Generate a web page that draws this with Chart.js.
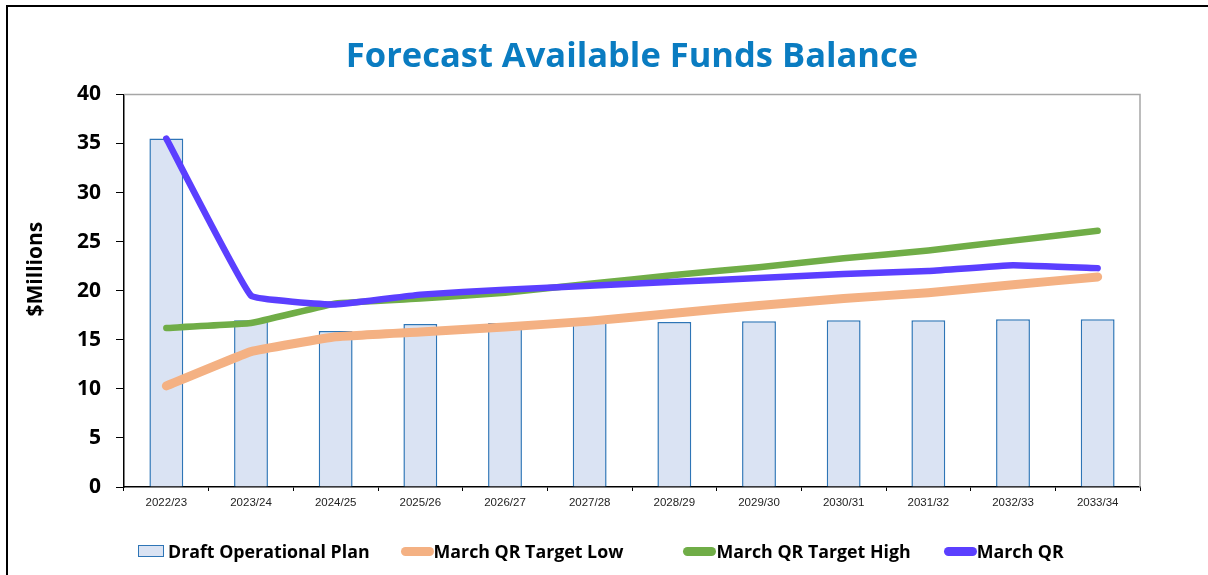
<!DOCTYPE html>
<html>
<head>
<meta charset="utf-8">
<title>Forecast Available Funds Balance</title>
<script src="https://cdn.jsdelivr.net/npm/chart.js@4"></script>
<style>
    body { margin: 0; background: #fff; }
    #wrap { position: relative; width: 1208px; height: 575px; overflow: hidden; }
    #frame { position: absolute; left: 6px; top: 5px; right: -10px; bottom: -10px;
             border-left: 2.5px solid #000; border-top: 2.5px solid #000; }
    canvas { position: absolute; left: 0; top: 0; }
    #legend { position: absolute; left: 138px; top: 541px; display: flex; align-items: center;
              font: bold 17.8px "Open Sans", sans-serif; color: #000; line-height: 20px; }
    .item { display: flex; align-items: center; }
    .swatch { display: inline-block; box-sizing: border-box; }
</style>
</head>
<body>
<div id="wrap">
    <div id="frame"></div>
    <canvas id="fundsChart" width="1208" height="575"></canvas>
    <div id="legend"></div>
</div>
<script>
const years = ['2022/23', '2023/24', '2024/25', '2025/26', '2026/27', '2027/28',
               '2028/29', '2029/30', '2030/31', '2031/32', '2032/33', '2033/34']

const draftPlan  = [35.5, 17.0, 15.9, 16.6, 16.7, 16.8, 16.8, 16.9, 17.0, 17.0, 17.1, 17.1]
const targetLow  = [10.3, 13.8, 15.3, 15.8, 16.3, 16.9, 17.7, 18.5, 19.2, 19.8, 20.6, 21.4]
const targetHigh = [16.2, 16.7, 18.7, 19.2, 19.8, 20.7, 21.6, 22.4, 23.3, 24.1, 25.1, 26.1]
const marchQR    = [35.5, 19.5, 18.6, 19.6, 20.1, 20.5, 20.9, 21.3, 21.7, 22.0, 22.6, 22.3]

const yTicks = [0, 5, 10, 15, 20, 25, 30, 35, 40]

// space after each legend entry
const legendGaps = [31, 60, 33, 0]

// gray frame on top/right of the plot and the rotated y title
const plotExtras = {
    id: 'plotExtras',
    beforeDatasetsDraw(chart) {
        const { ctx, chartArea: a } = chart
        ctx.save()
        ctx.strokeStyle = '#a6a6a6'
        ctx.lineWidth = 1.5
        ctx.beginPath()
        ctx.moveTo(a.left, a.top)
        ctx.lineTo(a.right, a.top)
        ctx.lineTo(a.right, a.bottom)
        ctx.stroke()

        ctx.translate(36, a.top + (a.bottom - a.top) * 0.445)
        ctx.rotate(-Math.PI / 2)
        ctx.font = 'bold 21px "Open Sans", sans-serif'
        ctx.fillStyle = '#000'
        ctx.textAlign = 'center'
        ctx.textBaseline = 'middle'
        ctx.fillText('$Millions', 0, 0)
        ctx.restore()
    }
}

function lineSet(label, data, color, width, order) {
    return {
        type: 'line',
        label: label,
        data: data,
        borderColor: color,
        backgroundColor: color,
        borderWidth: width,
        borderCapStyle: 'round',
        borderJoinStyle: 'round',
        tension: 0.08,
        pointRadius: 0,
        fill: false,
        order: order
    }
}

const chart = new Chart(document.getElementById('fundsChart'), {
    type: 'bar',
    data: {
        labels: years,
        datasets: [
            {
                label: 'Draft Operational Plan',
                data: draftPlan,
                backgroundColor: '#dae3f3',
                borderColor: '#2e75b6',
                borderWidth: 1.5,
                barPercentage: 0.4,
                categoryPercentage: 1,
                order: 4
            },
            lineSet('March QR Target Low', targetLow, '#f4b183', 9, 3),
            lineSet('March QR Target High', targetHigh, '#70ad47', 6.5, 2),
            lineSet('March QR', marchQR, '#5b3fff', 6.5, 1)
        ]
    },
    options: {
        responsive: false,
        animation: false,
        layout: { padding: { left: 20, right: 68, top: 0, bottom: 58 } },
        plugins: {
            legend: { display: false },
            tooltip: { enabled: false },
            title: {
                display: true,
                fullSize: false,
                text: 'Forecast Available Funds Balance',
                color: '#0a7cc1',
                font: { family: 'Open Sans', weight: 'bold', size: 34.5 },
                padding: { top: 36, bottom: 17 }
            }
        },
        scales: {
            x: {
                afterFit: axis => { axis.height = 30 },
                border: { color: '#000', width: 1.5 },
                grid: { drawOnChartArea: false, tickLength: 4, color: '#000', lineWidth: 1 },
                ticks: {
                    color: '#222',
                    font: { family: 'Liberation Sans', size: 11.5 },
                    padding: 5,
                    maxRotation: 0,
                    autoSkip: false
                }
            },
            y: {
                min: 0,
                max: 40,
                afterFit: axis => { axis.width = 104 },
                afterBuildTicks: axis => { axis.ticks = yTicks.map(v => ({ value: v })) },
                border: { color: '#000', width: 1.5 },
                grid: { drawOnChartArea: false, tickLength: 8, color: '#000', lineWidth: 1 },
                ticks: {
                    color: '#000',
                    font: { family: 'Open Sans', weight: 'bold', size: 21 },
                    padding: 15
                }
            }
        }
    },
    plugins: [plotExtras]
})

// legend row built from the chart's datasets
const legend = document.getElementById('legend')
chart.data.datasets.forEach((ds, i) => {
    const item = document.createElement('span')
    item.className = 'item'
    item.style.marginRight = legendGaps[i] + 'px'
    const sw = document.createElement('span')
    sw.className = 'swatch'
    if (ds.type === 'line') {
        sw.style.width = '33px'
        sw.style.height = '9px'
        sw.style.borderRadius = '4.5px'
        sw.style.background = ds.borderColor
    } else {
        sw.style.width = '26px'
        sw.style.height = '12px'
        sw.style.marginRight = '4px'
        sw.style.background = ds.backgroundColor
        sw.style.border = '1.5px solid ' + ds.borderColor
    }
    item.appendChild(sw)
    item.appendChild(document.createTextNode(ds.label))
    legend.appendChild(item)
})
</script>
</body>
</html>
